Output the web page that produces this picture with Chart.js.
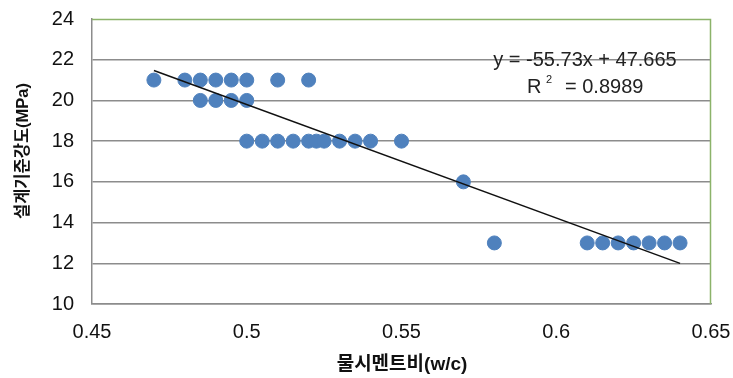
<!DOCTYPE html>
<html>
<head>
<meta charset="utf-8">
<script src="https://cdn.jsdelivr.net/npm/chart.js@4.4.1/dist/chart.umd.min.js"></script>
<style>
  html, body { margin: 0; padding: 0; background: #fff; }
  #wrap { width: 733px; height: 378px; }
</style>
</head>
<body>
<div id="wrap"><canvas id="c"></canvas></div>
<script>
// Water-cement ratio vs. design strength
const wcRatio = [
  0.47, 0.48, 0.485, 0.49, 0.495, 0.50, 0.51, 0.52,
  0.485, 0.49, 0.495, 0.50,
  0.50, 0.505, 0.51, 0.515, 0.52, 0.5225, 0.525, 0.53, 0.535, 0.54, 0.55,
  0.57, 0.58,
  0.61, 0.615, 0.62, 0.625, 0.63, 0.635, 0.64
];
const strength = [
  21, 21, 21, 21, 21, 21, 21, 21,
  20, 20, 20, 20,
  18, 18, 18, 18, 18, 18, 18, 18, 18, 18, 18,
  16, 13,
  13, 13, 13, 13, 13, 13, 13
];
// Linear trend: y = slope * x + intercept
const slope = -55.73;
const intercept = 47.665;
const rSquared = 0.8989;
const trendRange = [0.47, 0.64];

const xTicks = [0.45, 0.5, 0.55, 0.6, 0.65];
const yTicks = [10, 12, 14, 16, 18, 20, 22, 24];
const xTitle = '물시멘트비(w/c)';
const yTitle = '설계기준강도(MPa)';

const FONT = '"Liberation Sans", Arial, "Noto Sans CJK KR", sans-serif';
const KFONT = '"Liberation Sans", "Noto Sans CJK KR", sans-serif';

const points = wcRatio.map((x, i) => ({ x: x, y: strength[i] }));
const trend = trendRange.map(x => ({ x: x, y: slope * x + intercept }));

const frameAndText = {
  id: 'frameAndText',
  afterDraw(chart) {
    const { ctx, chartArea: a } = chart;
    ctx.save();
    // green top and right frame edges
    ctx.strokeStyle = '#8cb36a';
    ctx.lineWidth = 1.5;
    ctx.beginPath();
    ctx.moveTo(a.left, a.top + 0.5);
    ctx.lineTo(a.right - 0.5, a.top + 0.5);
    ctx.lineTo(a.right - 0.5, a.bottom);
    ctx.stroke();

    // trendline equation
    ctx.fillStyle = '#222';
    ctx.font = '20px ' + FONT;
    ctx.textAlign = 'center';
    ctx.textBaseline = 'middle';
    const eq = 'y = ' + slope.toFixed(2) + 'x + ' + intercept.toFixed(3);
    ctx.fillText(eq, 585, 60);
    ctx.textAlign = 'left';
    ctx.fillText('R', 527, 87);
    ctx.font = '11px ' + FONT;
    ctx.fillText('2', 546, 80);
    ctx.font = '20px ' + FONT;
    ctx.fillText('= ' + rSquared.toFixed(4), 565, 87);

    // axis titles
    ctx.fillStyle = '#111';
    ctx.textAlign = 'center';
    ctx.font = 'bold 19px ' + KFONT;
    ctx.fillText(xTitle, 402, 365);
    ctx.translate(23, 151);
    ctx.rotate(-Math.PI / 2);
    ctx.font = 'bold 16.5px ' + KFONT;
    ctx.fillText(yTitle, 0, 0);
    ctx.restore();
  }
};

new Chart(document.getElementById('c'), {
  type: 'scatter',
  data: {
    datasets: [
      {
        data: points,
        backgroundColor: '#4f81bd',
        borderColor: '#4f81bd',
        pointRadius: 7,
        pointHoverRadius: 7,
        order: 2
      },
      {
        type: 'line',
        data: trend,
        borderColor: '#111',
        borderWidth: 1.5,
        pointRadius: 0,
        fill: false,
        order: 1
      }
    ]
  },
  options: {
    responsive: true,
    maintainAspectRatio: false,
    animation: false,
    devicePixelRatio: 1,
    layout: { padding: { top: 19, right: 22, left: 0, bottom: 0 } },
    plugins: { legend: { display: false }, tooltip: { enabled: false } },
    scales: {
      x: {
        type: 'linear',
        min: xTicks[0],
        max: xTicks[xTicks.length - 1],
        afterBuildTicks: s => { s.ticks = xTicks.map(v => ({ value: v })); },
        afterFit: s => { s.height = 74; s.paddingLeft = 0; s.paddingRight = 0; },
        grid: { display: false, drawTicks: false },
        border: { display: true, color: '#8c8c8c', width: 1.5 },
        ticks: {
          padding: 16,
          color: '#111',
          font: { family: FONT, size: 20 },
          maxRotation: 0,
          callback: v => String(parseFloat(v.toFixed(2)))
        }
      },
      y: {
        min: yTicks[0],
        max: yTicks[yTicks.length - 1],
        afterBuildTicks: s => { s.ticks = yTicks.map(v => ({ value: v })); },
        afterFit: s => { s.width = 92; s.paddingTop = 0; s.paddingBottom = 0; },
        grid: {
          drawTicks: false,
          color: ctx => ctx.tick && ctx.tick.value === 24 ? 'rgba(0,0,0,0)' : '#8c8c8c',
          lineWidth: 1.5
        },
        border: { display: true, color: '#8c8c8c', width: 1.5 },
        ticks: {
          padding: 18,
          color: '#111',
          font: { family: FONT, size: 20 }
        }
      }
    }
  },
  plugins: [frameAndText]
});
</script>
</body>
</html>
